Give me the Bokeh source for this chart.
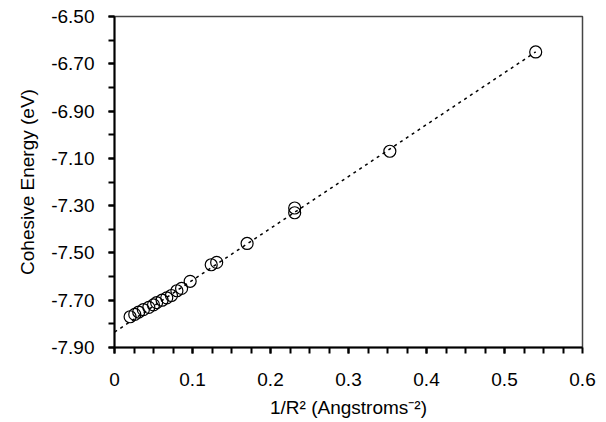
from bokeh.plotting import figure
from bokeh.embed import file_html
from bokeh.resources import INLINE
from bokeh.models import Range1d, FixedTicker, PrintfTickFormatter

# data
inv_r2 = [0.020, 0.026, 0.031, 0.037, 0.044, 0.050, 0.054, 0.061, 0.067, 0.073,
          0.080, 0.086, 0.097, 0.124, 0.131, 0.170, 0.231, 0.231, 0.353, 0.540]
energy = [-7.77, -7.76, -7.75, -7.74, -7.73, -7.72, -7.71, -7.70, -7.69, -7.68,
          -7.66, -7.65, -7.62, -7.55, -7.54, -7.46, -7.31, -7.33, -7.07, -6.65]
fit_x = [0.0, 0.540]
fit_y = [-7.835, -6.650]

x_major = [0.0, 0.1, 0.2, 0.3, 0.4, 0.5, 0.6]
x_minor = [0.025 * i for i in range(25)]
y_major = [-7.9, -7.7, -7.5, -7.3, -7.1, -6.9, -6.7, -6.5]
y_minor = [-7.9 + 0.1 * i for i in range(15)]

FONT = "Liberation Sans"

p = figure(width=606, height=422, output_backend="svg", toolbar_location=None,
           x_range=Range1d(0, 0.6), y_range=Range1d(-7.9, -6.5),
           min_border_left=114, min_border_right=24, min_border_top=16,
           min_border_bottom=75)
p.xgrid.visible = False
p.ygrid.visible = False
p.outline_line_color = "#444444"
p.outline_line_width = 1.5
p.background_fill_color = "white"
p.border_fill_color = "white"

p.line(fit_x, fit_y, line_color="black", line_width=1.5, line_dash="3 4")
p.scatter(inv_r2, energy, marker="circle", size=12, fill_color=None,
          line_color="black", line_width=1.2)

xa = p.xaxis[0]
xa.ticker = FixedTicker(ticks=x_major, minor_ticks=x_minor)
xa.formatter = PrintfTickFormatter(format="%.1f")
xa.major_label_overrides = {0: "0"}
ya = p.yaxis[0]
ya.ticker = FixedTicker(ticks=y_major, minor_ticks=y_minor)
ya.formatter = PrintfTickFormatter(format="%.2f")

for ax in (xa, ya):
    ax.axis_line_color = "black"
    ax.axis_line_width = 2
    ax.major_tick_line_color = "black"
    ax.minor_tick_line_color = "black"
    ax.major_tick_line_width = 2
    ax.minor_tick_line_width = 2
    ax.major_tick_in = 0
    ax.minor_tick_in = 0
    ax.major_tick_out = 6
    ax.minor_tick_out = 6
    ax.major_label_text_font = FONT
    ax.major_label_text_font_size = "19px"
    ax.major_label_text_color = "black"
    ax.axis_label_text_font = FONT
    ax.axis_label_text_font_size = "19px"
    ax.axis_label_text_font_style = "normal"
    ax.axis_label_text_color = "black"

xa.axis_label = "1/R² (Angstroms⁻²)"
ya.axis_label = "Cohesive Energy (eV)"
xa.major_label_standoff = 19
ya.major_label_standoff = 14
xa.axis_label_standoff = 8
ya.axis_label_standoff = 10

open("out.html", "w").write(file_html(p, INLINE))
